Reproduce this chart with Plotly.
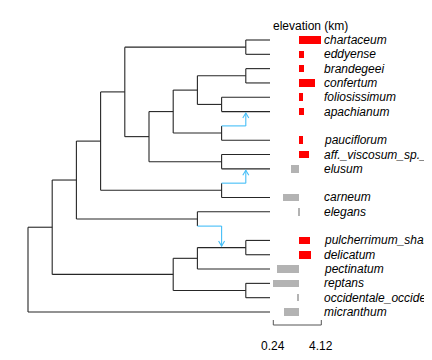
import plotly.graph_objects as go

# ---------------- data ----------------
# Tree topology with node heights (tips all at height 10; '#H*' are reticulation placeholders)
tree = ("root", 0, [
    ("A", 1, [
        ("B", 2, [
            ("D", 3, [
                ("F", 4, [
                    ("H", 9, ["chartaceum", "eddyense"]),
                    ("I", 5, [
                        ("J", 6, [
                            ("L", 7, [("N", 9, ["brandegeei", "confertum"]),
                                      ("O", 8, ["foliosissimum", "apachianum"])]),
                            ("M", 8, [("#H1", 9, []), "pauciflorum"])]),
                        ("K", 8, ["aff._viscosum_sp._nov", "elusum"])])]),
                ("G", 8, [("#H2", 9, []), "carneum"])]),
            ("E", 7, ["elegans", ("#H3", 8, [])])]),
        ("C", 6, [
            ("P", 7, [("R", 9, ["pulcherrimum_shastense", "delicatum"]), "pectinatum"]),
            ("Q", 9, ["reptans", "occidentale_occidentale"])])]),
    "micranthum"])
tip_height = 10

# reticulation edges: placeholder -> node whose stem receives the arrow
hybrids = [("#H1", "apachianum"), ("#H2", "elusum"), ("#H3", "R")]

# mean elevation (km) per taxon
elev_taxa = ["chartaceum", "eddyense", "brandegeei", "confertum", "foliosissimum",
             "apachianum", "pauciflorum", "aff._viscosum_sp._nov", "elusum", "carneum",
             "elegans", "pulcherrimum_shastense", "delicatum", "pectinatum", "reptans",
             "occidentale_occidentale", "micranthum"]
elev_km = [4.12, 2.75, 2.75, 3.65, 2.67,
           2.70, 2.67, 3.15, 1.65, 1.00,
           2.26, 3.21, 3.29, 0.51, 0.24,
           2.13, 1.08]

# ---------------- layout constants ----------------
OFF = 8                       # page body margin
W, H = 432, 360 - 2 * OFF
X0, DX = 28.0 - OFF, 24.2     # px of height 0, px per height unit
Y0, DY = 40.0 - OFF, 14.316   # px of row 1, px per row
BAR_L, BAR_R = 273.3 - OFF, 321.3 - OFF  # px of min / max elevation
TREE_COL = "#262626"
HYB_COL = "#45BEF7"
UP_COL = "#FF0000"
DOWN_COL = "#B3B3B3"
FONT = "Liberation Sans, Arial, sans-serif"

# ---------------- compute positions ----------------
pos = {}      # name -> (height, row)
children = {}
counter = [0]


def walk(node):
    if isinstance(node, str):
        counter[0] += 1
        pos[node] = (tip_height, counter[0])
        return node
    name, h, kids = node
    if not kids:
        counter[0] += 1
        pos[name] = (h, counter[0])
        return name
    names = [walk(k) for k in kids]
    children[name] = names
    pos[name] = (h, (pos[names[0]][1] + pos[names[-1]][1]) / 2)
    return name


walk(tree)
hyb_names = {h for h, _ in hybrids}

tx, ty, bx, by = [], [], [], []
for p, kids in children.items():
    hp, rp = pos[p]
    tx += [hp, hp, None]
    ty += [pos[kids[0]][1], pos[kids[-1]][1], None]
    for k in kids:
        hk, rk = pos[k]
        if k in hyb_names:
            bx += [hp, hk, None]
            by += [rk, rk, None]
        else:
            tx += [hp, hk, None]
            ty += [rk, rk, None]

ax, ay = [], []
for hname, target in hybrids:
    hx, hr = pos[hname]
    tr = pos[target][1]
    s = 1 if tr > hr else -1
    tip = tr - s * 1.5 / DY
    bx += [hx, hx, None]
    by += [hr, tip, None]
    ax += [hx - 3 / DX, hx, hx + 3 / DX, None]
    ay += [tip - s * 5 / DY, tip, tip - s * 5 / DY, None]

fig = go.Figure()
fig.add_trace(go.Scatter(x=tx, y=ty, mode="lines", line=dict(color=TREE_COL, width=1.1),
                         hoverinfo="skip", showlegend=False))
fig.add_trace(go.Scatter(x=bx, y=by, mode="lines", line=dict(color=HYB_COL, width=1.1),
                         hoverinfo="skip", showlegend=False))
fig.add_trace(go.Scatter(x=ax, y=ay, mode="lines", line=dict(color=HYB_COL, width=1.1),
                         hoverinfo="skip", showlegend=False))

vmin, vmax = min(elev_km), max(elev_km)
mean = sum(elev_km) / len(elev_km)
rows = [pos[t][1] for t in elev_taxa]
fig.add_trace(go.Bar(orientation="h", y=rows, x=[v - mean for v in elev_km], base=mean,
                     width=0.53, xaxis="x2", yaxis="y",
                     marker=dict(color=[UP_COL if v > mean else DOWN_COL for v in elev_km],
                                 line=dict(width=0)),
                     hoverinfo="skip", showlegend=False))

# axis ranges mapped to pixels
xr = [-X0 / DX, (W - X0) / DX]
kpp = (vmax - vmin) / (BAR_R - BAR_L)
x2r = [vmin - BAR_L * kpp, vmin + (W - BAR_L) * kpp]
yr = [1 + (H - Y0) / DY, 1 - Y0 / DY]

annotations = []
for t, r in zip(elev_taxa, rows):
    annotations.append(dict(x=vmax, y=r, xref="x2", yref="y", text=t, showarrow=False,
                            xanchor="left", yanchor="middle", xshift=1,
                            font=dict(family=FONT, size=12, color="black", style="italic")))
annotations.append(dict(x=vmin, y=1 - (26 - OFF) / H, xref="x2", yref="paper",
                        text="elevation (km)", showarrow=False, xanchor="left",
                        yanchor="middle", xshift=-2,
                        font=dict(family=FONT, size=12, color="black")))
for v in (vmin, vmax):
    annotations.append(dict(x=v, y=1 - (346 - OFF) / H, xref="x2", yref="paper",
                            text=f"{v:.2f}", showarrow=False, xanchor="center",
                            yanchor="middle", font=dict(family=FONT, size=12, color="black")))

ax_y = 1 - (325 - OFF) / H
tick_top = 1 - (320 - OFF) / H
shapes = [dict(type="line", xref="x2", yref="paper", x0=vmin, x1=vmax, y0=ax_y, y1=ax_y,
               line=dict(color="#555555", width=1))]
for v in (vmin, vmax):
    shapes.append(dict(type="line", xref="x2", yref="paper", x0=v, x1=v, y0=ax_y, y1=tick_top,
                       line=dict(color="#555555", width=1)))

fig.update_layout(
    width=W, height=H, autosize=False,
    margin=dict(l=0, r=0, t=0, b=0, pad=0),
    paper_bgcolor="white", plot_bgcolor="white",
    xaxis=dict(range=xr, visible=False, fixedrange=True),
    xaxis2=dict(range=x2r, overlaying="x", anchor="y", visible=False, fixedrange=True),
    yaxis=dict(range=yr, visible=False, fixedrange=True),
    annotations=annotations, shapes=shapes, bargap=0,
)

fig.write_html("out.html")
